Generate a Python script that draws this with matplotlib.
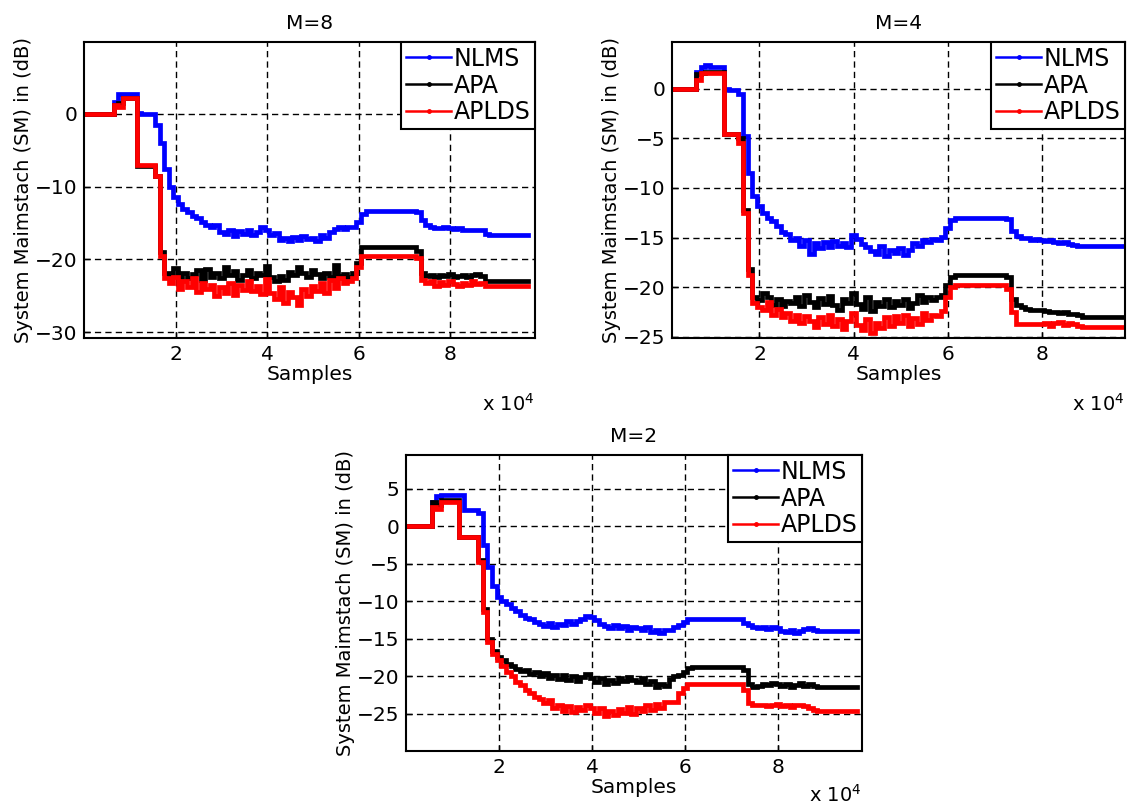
import numpy as np
import matplotlib
matplotlib.use("Agg")
import matplotlib.pyplot as plt
from matplotlib.lines import Line2D

# sample index (every 1000 samples), values in dB
samples = np.arange(0, 98000, 1000)

# ---- M=8 ----
nlms_8 = [
    0, 0, 0, 0, 0, 0, 0, 1.7, 2.8, 2.8,
    2.8, 2.8, 0.2, 0, 0, 0, -1.5, -4.0, -7.5, -10.0,
    -11.4, -12.4, -13.0, -13.5, -14.0, -14.3, -14.8, -15.2, -15.6, -15.3,
    -16.2, -16.5, -16.0, -16.8, -16.1, -16.5, -16.0, -16.6, -16.2, -15.6,
    -15.9, -16.6, -16.4, -17.3, -17.0, -17.4, -16.9, -17.3, -16.8, -17.2,
    -17.0, -17.4, -16.6, -17.1, -16.2, -15.8, -15.6, -15.8, -15.5, -15.6,
    -14.8, -13.8, -13.3, -13.3, -13.3, -13.3, -13.3, -13.3, -13.3, -13.3,
    -13.3, -13.3, -13.3, -13.5, -14.6, -15.3, -15.5, -15.7, -15.7, -15.6,
    -15.7, -15.8, -15.7, -16.0, -16.0, -15.9, -16.0, -16.0, -16.5, -16.7,
    -16.7, -16.7, -16.7, -16.7, -16.7, -16.7, -16.7, -16.7,
]
apa_8 = [
    0, 0, 0, 0, 0, 0, 0, 1.2, 1.5, 2.2,
    2.2, 2.2, -7.2, -7.2, -7.2, -7.2, -8.5, -19.0, -21.8, -22.3,
    -21.2, -22.5, -21.8, -22.6, -22.0, -21.5, -22.8, -21.3, -22.4, -21.9,
    -22.5, -21.0, -22.2, -21.6, -22.8, -22.1, -21.4, -22.6, -21.8, -22.2,
    -20.9, -22.4, -23.0, -22.3, -22.8, -21.7, -22.1, -21.0, -21.9, -22.4,
    -21.5, -22.0, -22.6, -21.8, -22.4, -20.8, -22.3, -22.0, -22.4, -21.8,
    -20.5, -18.3, -18.3, -18.3, -18.3, -18.3, -18.3, -18.3, -18.3, -18.3,
    -18.3, -18.3, -18.3, -18.8, -21.9, -22.3, -22.2, -22.4, -22.1, -22.3,
    -22.0, -22.4, -22.3, -22.1, -22.4, -22.2, -22.0, -22.3, -23.0, -23.0,
    -23.0, -23.0, -23.0, -23.0, -23.0, -23.0, -23.0, -23.0,
]
aplds_8 = [
    0, 0, 0, 0, 0, 0, 0, 1.2, 1.0, 2.2,
    2.2, 2.2, -7.0, -7.0, -7.0, -7.0, -8.5, -19.5, -22.5, -23.3,
    -22.4, -24.1, -23.0, -23.8, -22.6, -24.5, -23.2, -24.0, -23.5, -25.0,
    -23.8, -24.6, -23.2, -24.9, -23.5, -24.2, -22.9, -24.4, -23.6, -24.8,
    -22.7, -24.6, -25.4, -23.8, -26.0, -24.5, -25.2, -26.3, -24.1, -25.0,
    -23.7, -24.3, -23.2, -24.6, -22.8, -23.9, -22.6, -23.3, -22.9, -22.5,
    -21.0, -19.5, -19.5, -19.5, -19.5, -19.5, -19.5, -19.5, -19.5, -19.5,
    -19.5, -19.5, -19.5, -19.8, -22.8, -23.3, -23.0, -23.6, -23.1, -23.5,
    -22.9, -23.4, -23.6, -23.2, -23.5, -23.0, -23.4, -23.3, -23.6, -23.6,
    -23.6, -23.6, -23.6, -23.6, -23.6, -23.6, -23.6, -23.6,
]

# ---- M=4 ----
nlms_4 = [
    0, 0, 0, 0, 0, 0, 0, 1.7, 2.2, 2.4,
    2.2, 2.2, 2.2, 0.0, -0.1, -0.1, -0.5, -4.8, -8.5, -10.8,
    -11.8, -12.5, -13.0, -13.3, -13.8, -14.4, -14.6, -15.2, -15.0, -15.8,
    -15.2, -16.6, -15.5, -16.0, -15.4, -15.9, -15.3, -15.8, -15.5, -15.9,
    -14.7, -15.1, -15.6, -15.9, -16.3, -16.6, -15.8, -16.8, -16.2, -16.5,
    -16.0, -16.7, -16.2, -15.5, -15.8, -15.2, -15.4, -15.1, -15.2, -14.9,
    -14.0, -13.2, -13.0, -13.0, -13.0, -13.0, -13.0, -13.0, -13.0, -13.0,
    -13.0, -13.0, -13.0, -13.1, -14.3, -14.8, -15.0, -15.0, -15.2, -15.1,
    -15.2, -15.3, -15.2, -15.4, -15.5, -15.4, -15.6, -15.7, -15.8, -15.8,
    -15.8, -15.8, -15.8, -15.8, -15.8, -15.8, -15.8, -15.8,
]
apa_4 = [
    0, 0, 0, 0, 0, 0, 0, 1.5, 1.6, 1.7,
    1.7, 1.7, 1.7, -4.6, -4.6, -4.6, -5.0, -12.2, -18.2, -21.0,
    -21.3, -20.6, -21.0, -21.8, -21.2, -21.9, -21.4, -21.6, -21.0, -21.9,
    -20.8, -21.5, -22.0, -21.1, -21.7, -20.9, -21.8, -22.3, -21.2, -21.6,
    -20.6, -21.7, -22.2, -21.0, -22.4, -21.5, -21.9, -21.2, -22.0, -21.4,
    -21.8, -21.2, -22.1, -21.6, -20.8, -21.5, -21.0, -21.3, -21.0, -20.8,
    -19.8, -19.0, -18.8, -18.8, -18.8, -18.8, -18.8, -18.8, -18.8, -18.8,
    -18.8, -18.8, -18.8, -19.0, -21.2, -21.8, -22.0, -22.2, -22.3, -22.3,
    -22.3, -22.4, -22.5, -22.5, -22.6, -22.5, -22.7, -22.7, -22.8, -23.0,
    -23.0, -23.0, -23.0, -23.0, -23.0, -23.0, -23.0, -23.0,
]
aplds_4 = [
    0, 0, 0, 0, 0, 0, 0, 0.9, 1.6, 1.6,
    1.6, 1.6, 1.6, -4.6, -4.6, -4.6, -5.5, -12.5, -18.8, -21.6,
    -22.0, -22.3, -21.5, -22.8, -22.2, -23.0, -22.6, -23.4, -22.8, -23.6,
    -22.9, -23.4, -24.0, -23.0, -23.7, -22.8, -23.9, -23.2, -24.2, -23.4,
    -22.6, -23.8, -24.3, -23.2, -24.6, -23.6, -24.1, -23.0, -23.9, -22.9,
    -23.6, -22.8, -23.9, -23.1, -23.7, -22.6, -23.3, -22.8, -22.9, -22.4,
    -21.0, -20.0, -19.8, -19.8, -19.8, -19.8, -19.8, -19.8, -19.8, -19.8,
    -19.8, -19.8, -19.8, -20.2, -22.5, -23.7, -23.7, -23.7, -23.7, -23.7,
    -23.7, -23.6, -23.9, -23.6, -23.5, -23.8, -23.6, -23.7, -23.9, -24.0,
    -24.0, -24.0, -24.0, -24.0, -24.0, -24.0, -24.0, -24.0,
]

# ---- M=2 ----
nlms_2 = [
    0, 0, 0, 0, 0, 0, 3.2, 4.0, 4.2, 4.2,
    4.2, 4.2, 4.2, 2.1, 2.1, 2.1, 1.8, -2.5, -5.5, -8.0,
    -9.4, -10.0, -10.4, -10.9, -11.3, -11.8, -12.2, -12.4, -12.8, -13.0,
    -13.3, -12.9, -13.4, -13.1, -13.2, -12.7, -13.0, -12.6, -12.4, -12.0,
    -12.1, -12.5, -13.0, -13.3, -13.6, -13.2, -13.6, -13.3, -13.8, -13.4,
    -13.6, -13.9, -13.5, -14.1, -13.8, -14.2, -13.9, -13.8, -13.5, -13.2,
    -12.8, -12.4, -12.4, -12.4, -12.4, -12.4, -12.4, -12.4, -12.4, -12.4,
    -12.4, -12.4, -12.4, -12.9, -13.2, -13.4, -13.6, -13.5, -13.7, -13.4,
    -13.6, -14.0, -14.1, -13.9, -14.2, -14.0, -13.7, -13.6, -13.8, -14.0,
    -14.0, -14.0, -14.0, -14.0, -14.0, -14.0, -14.0, -14.0,
]
apa_2 = [
    0, 0, 0, 0, 0, 0, 3.2, 2.8, 3.5, 3.5,
    3.5, 3.5, -1.4, -1.4, -1.4, -1.4, -4.5, -11.0, -15.0, -16.6,
    -17.4, -17.9, -18.4, -18.6, -19.0, -19.3, -19.2, -19.7, -19.5, -20.0,
    -19.6, -20.2, -19.8, -20.4, -19.9, -20.5, -20.0, -20.6, -20.1, -19.7,
    -20.3, -20.8, -20.2, -21.0, -20.5, -20.9, -20.3, -20.6, -20.1, -20.5,
    -20.8, -20.3, -21.1, -20.7, -21.4, -21.0, -21.3, -20.4, -20.0, -19.9,
    -19.4, -18.9, -18.8, -18.8, -18.8, -18.8, -18.8, -18.8, -18.8, -18.8,
    -18.8, -18.8, -18.8, -19.2, -21.0, -21.4, -21.3, -21.0, -21.2, -20.9,
    -21.1, -21.3, -21.0, -21.4, -21.2, -20.9, -21.3, -21.1, -21.3, -21.4,
    -21.4, -21.4, -21.4, -21.4, -21.4, -21.4, -21.4, -21.4,
]
aplds_2 = [
    0, 0, 0, 0, 0, 0, 2.5, 2.3, 3.2, 3.2,
    3.2, 3.2, -1.4, -1.4, -1.4, -1.4, -4.8, -11.5, -15.5, -17.0,
    -17.8, -18.6, -19.4, -20.0, -20.8, -21.2, -21.8, -22.3, -22.8, -23.0,
    -23.6, -23.2, -24.2, -23.8, -24.6, -24.0, -24.8, -24.1, -24.5, -23.8,
    -24.3, -24.9, -24.2, -25.3, -24.6, -25.2, -24.4, -24.9, -24.1, -25.0,
    -24.2, -24.7, -23.8, -24.5, -23.7, -24.3, -23.5, -23.4, -23.4, -22.2,
    -21.6, -21.0, -21.0, -21.0, -21.0, -21.0, -21.0, -21.0, -21.0, -21.0,
    -21.0, -21.0, -21.0, -21.8, -23.6, -23.9, -23.9, -23.8, -24.0, -23.9,
    -23.7, -24.0, -23.9, -24.1, -23.8, -23.9, -24.0, -24.2, -24.5, -24.7,
    -24.7, -24.7, -24.7, -24.7, -24.7, -24.7, -24.7, -24.7,
]

names = ["NLMS", "APA", "APLDS"]
colors = ["#0000ff", "#000000", "#ff0000"]
ylabel = "System Maimstach (SM) in (dB)"


def draw_panel(ax, title, series, ylim, yticks, xlim, exp_y):
    for vals, c in zip(series, colors):
        ax.plot(samples / 1e4, vals, color=c, lw=3.4, drawstyle="steps-mid",
                solid_joinstyle="miter")
    ax.set_xlim(xlim)
    ax.set_ylim(ylim)
    ax.set_xticks([2, 4, 6, 8])
    ax.set_yticks(yticks)
    ax.grid(True, color="k", linestyle=(0, (4.5, 3)), linewidth=1.0)
    ax.set_axisbelow(True)
    ax.tick_params(direction="in", length=4, width=1, labelsize=14.5, pad=5)
    for s in ax.spines.values():
        s.set_linewidth(1.5)
    ax.set_title(title, fontsize=14.5, pad=9)
    ax.set_xlabel("Samples", fontsize=14.5, labelpad=1)
    ax.set_ylabel(ylabel, fontsize=14, labelpad=1)
    ax.text(1.0, exp_y, r"x $10^4$", transform=ax.transAxes,
            ha="right", va="baseline", fontsize=14)

    handles = [Line2D([], [], color=c, lw=1.8, marker=".", markersize=5)
               for c in colors]
    leg = ax.legend(handles, names, loc="upper right", fontsize=17,
                    borderaxespad=0, fancybox=False, framealpha=1,
                    edgecolor="k", handlelength=1.9, handletextpad=0.1,
                    labelspacing=0.12, borderpad=0.2)
    leg.get_frame().set_linewidth(1.5)


plt.rcParams["mathtext.default"] = "regular"
fig = plt.figure(figsize=(11.38, 8.07), dpi=100)

ax1 = fig.add_axes([0.0738, 0.5812, 0.3963, 0.3668])
ax2 = fig.add_axes([0.5905, 0.5812, 0.3980, 0.3668])
ax3 = fig.add_axes([0.3568, 0.0694, 0.4007, 0.3668])

draw_panel(ax1, "M=8", [nlms_8, apa_8, aplds_8], (-30.8, 9.9),
           [-30, -20, -10, 0], (0, 9.85), -0.245)
draw_panel(ax2, "M=4", [nlms_4, apa_4, aplds_4], (-25.1, 4.7),
           [-25, -20, -15, -10, -5, 0], (0.14, 9.77), -0.245)
draw_panel(ax3, "M=2", [nlms_2, apa_2, aplds_2], (-30, 9.5),
           [-25, -20, -15, -10, -5, 0, 5], (0, 9.81), -0.17)

fig.savefig("out.png", dpi=100)
